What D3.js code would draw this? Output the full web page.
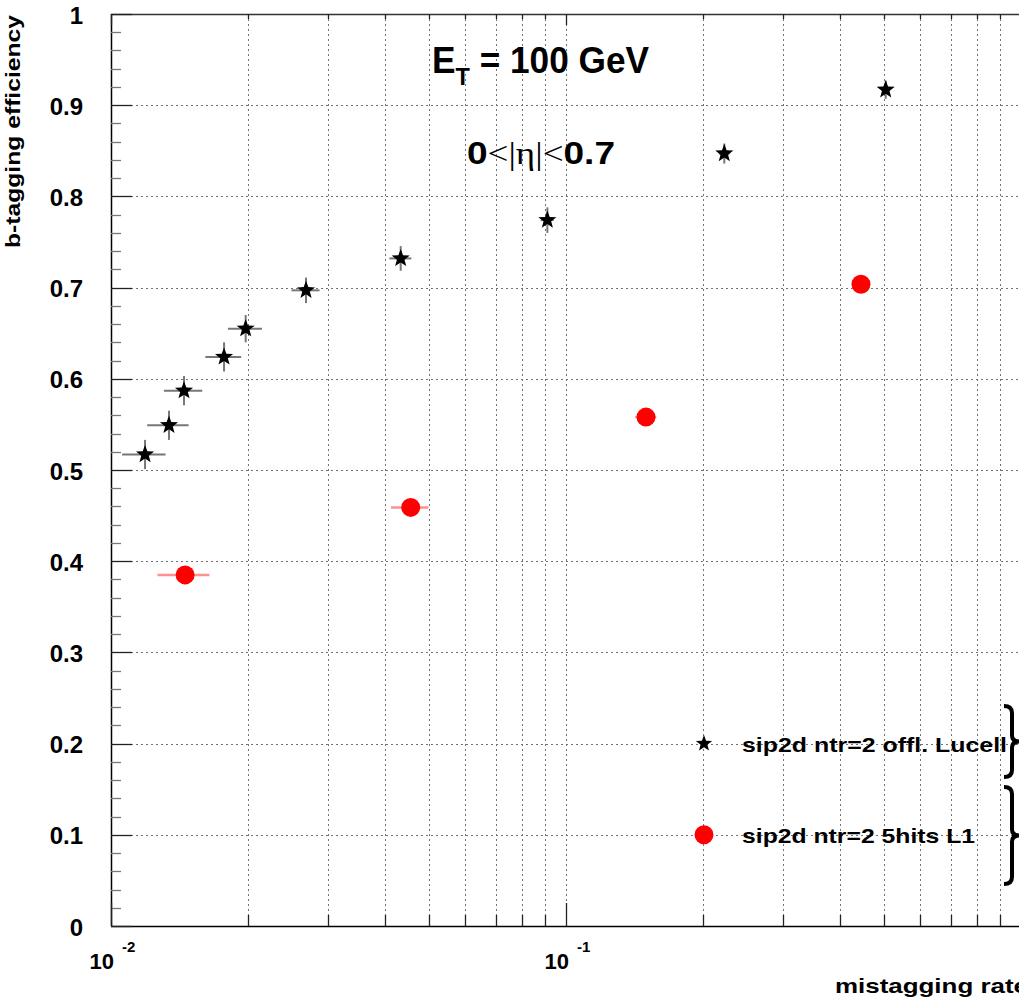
<!DOCTYPE html>
<html>
<head>
<meta charset="utf-8">
<script src="https://cdn.jsdelivr.net/npm/d3@7"></script>
<style>
  html, body { margin: 0; padding: 0; background: #fff; }
  svg { display: block; }
  text { font-family: "Liberation Sans", Arial, Helvetica, sans-serif; font-weight: bold; fill: #000; }
</style>
</head>
<body>
<svg id="chart" width="1019" height="1001"></svg>
<script>
// b-tagging efficiency vs. mistagging rate, E_T = 100 GeV, 0<|eta|<0.7

// offline Lucell tagger (stars)
const starRate   = [0.01188, 0.01341, 0.01447, 0.01772, 0.01977, 0.02683, 0.04332, 0.0910, 0.2228, 0.5043];
const starEff    = [0.517, 0.549, 0.587, 0.624, 0.655, 0.697, 0.732, 0.774, 0.847, 0.917];
const starRateErr = [0.0013, 0.0014, 0.0014, 0.0016, 0.0017, 0.0019, 0.0024, 0.003, 0.006, 0.01];
const starEffErr  = [0.016, 0.016, 0.016, 0.016, 0.015, 0.014, 0.0135, 0.014, 0.011, 0.010];

// L1 5-hit tagger (red circles)
const circRate    = [0.01455, 0.04557, 0.1499, 0.4449];
const circEff     = [0.385, 0.459, 0.558, 0.7036];
const circRateErr = [0.0019, 0.0043, 0.008, 0.015];
const circEffErr  = [0.008, 0.008, 0.008, 0.008];

// axis ticks
const yMajor = [0, 0.1, 0.2, 0.3, 0.4, 0.5, 0.6, 0.7, 0.8, 0.9, 1];
const yLabels = ["0", "0.1", "0.2", "0.3", "0.4", "0.5", "0.6", "0.7", "0.8", "0.9", "1"];
const xDecades = [0.01, 0.1, 1];
const xDecadeExp = ["-2", "-1", "0"];

const legendNames = ["sip2d ntr=2 offl. Lucell", "sip2d ntr=2 5hits L1"];

const svg = d3.select("#chart");

const x = d3.scaleLog().domain([0.01, 1]).range([111, 1021]);
const y = d3.scaleLinear().domain([0, 1]).range([926, 14]);

// minor log positions 2..9 x 10^n
const xMinor = [];
[0.01, 0.1].forEach(d => { for (let k = 2; k <= 9; k++) xMinor.push(d * k); });
const yMinor = d3.range(0, 50).map(i => i * 0.02).filter(v => Math.abs(v * 10 - Math.round(v * 10)) > 1e-6);

// grid
const grid = svg.append("g")
  .attr("stroke", "#444").attr("stroke-width", 1).attr("stroke-dasharray", "2,3").attr("opacity", 0.75);
grid.selectAll("line.gx").data(xMinor.concat([0.1])).join("line")
  .attr("x1", d => Math.round(x(d)) + 0.5).attr("x2", d => Math.round(x(d)) + 0.5)
  .attr("y1", y(0)).attr("y2", y(1));
grid.selectAll("line.gy").data(yMajor.slice(1, 10)).join("line")
  .attr("x1", x(0.01)).attr("x2", x(1))
  .attr("y1", d => Math.round(y(d)) + 0.5).attr("y2", d => Math.round(y(d)) + 0.5);

// frame
const frame = svg.append("g").attr("stroke", "#000").attr("fill", "none");
frame.append("line").attr("x1", 111.5).attr("x2", 111.5).attr("y1", y(1)).attr("y2", y(0)).attr("stroke-width", 1.5);
frame.append("line").attr("x1", 111).attr("x2", 1021).attr("y1", 926.5).attr("y2", 926.5).attr("stroke-width", 1.5);
frame.append("line").attr("x1", 111).attr("x2", 1021).attr("y1", 14.5).attr("y2", 14.5).attr("stroke-width", 1.5).attr("stroke", "#333");

// y ticks (left)
const yt = svg.append("g").attr("stroke", "#222").attr("stroke-width", 1.3);
yt.selectAll("line.maj").data(yMajor).join("line")
  .attr("x1", 111).attr("x2", 132)
  .attr("y1", d => Math.round(y(d)) + 0.5).attr("y2", d => Math.round(y(d)) + 0.5);
yt.selectAll("line.min").data(yMinor).join("line")
  .attr("x1", 111).attr("x2", 121).attr("stroke", "#777")
  .attr("y1", d => Math.round(y(d)) + 0.5).attr("y2", d => Math.round(y(d)) + 0.5);

// x ticks (bottom, top)
const xt = svg.append("g").attr("stroke", "#222").attr("stroke-width", 1.3);
xt.selectAll("line.bmin").data(xMinor).join("line")
  .attr("x1", d => Math.round(x(d)) + 0.5).attr("x2", d => Math.round(x(d)) + 0.5)
  .attr("y1", 926).attr("y2", 915);
xt.selectAll("line.bmaj").data(xDecades).join("line")
  .attr("x1", d => Math.round(x(d)) + 0.5).attr("x2", d => Math.round(x(d)) + 0.5)
  .attr("y1", 926).attr("y2", 903);
xt.selectAll("line.tmin").data(xMinor).join("line")
  .attr("x1", d => Math.round(x(d)) + 0.5).attr("x2", d => Math.round(x(d)) + 0.5)
  .attr("y1", 14).attr("y2", 19);
xt.selectAll("line.tmaj").data(xDecades).join("line")
  .attr("x1", d => Math.round(x(d)) + 0.5).attr("x2", d => Math.round(x(d)) + 0.5)
  .attr("y1", 14).attr("y2", 25);

// y tick labels
svg.append("g").selectAll("text").data(yMajor).join("text")
  .attr("x", 83).attr("y", d => y(d) + 9.5)
  .attr("text-anchor", "end").attr("font-size", 24)
  .text((d, i) => yLabels[i]);

// x tick labels 10^n
const xl = svg.append("g").selectAll("g").data(xDecades.slice(0, 2)).join("g");
xl.append("text").attr("x", d => x(d) + 3).attr("y", 969)
  .attr("text-anchor", "end").attr("font-size", 22).text("10");
xl.append("text").attr("x", d => x(d) + 11).attr("y", 952)
  .attr("font-size", 15).text((d, i) => xDecadeExp[i]);

// axis titles
svg.append("text")
  .attr("transform", "translate(20,15) rotate(-90)")
  .attr("text-anchor", "end").attr("font-size", 21)
  .attr("textLength", 233).attr("lengthAdjust", "spacingAndGlyphs")
  .text("b-tagging efficiency");
svg.append("text")
  .attr("x", 835).attr("y", 993).attr("font-size", 21)
  .attr("textLength", 193).attr("lengthAdjust", "spacingAndGlyphs")
  .text("mistagging rate");

// star marker path
function starPath(R) {
  const r = R * 0.42;
  const pts = d3.range(10).map(i => {
    const a = -Math.PI / 2 + i * Math.PI / 5;
    const rr = i % 2 === 0 ? R : r;
    return [rr * Math.cos(a), rr * Math.sin(a)];
  });
  return "M" + pts.map(p => p[0].toFixed(2) + "," + p[1].toFixed(2)).join("L") + "Z";
}

const starData = starRate.map((v, i) => ({ x: v, y: starEff[i], ex: starRateErr[i], ey: starEffErr[i] }));
const circData = circRate.map((v, i) => ({ x: v, y: circEff[i], ex: circRateErr[i], ey: circEffErr[i] }));

// error bars
const eb = svg.append("g");
eb.selectAll("line.sx").data(starData).join("line")
  .attr("x1", d => x(d.x - d.ex)).attr("x2", d => x(d.x + d.ex))
  .attr("y1", d => y(d.y)).attr("y2", d => y(d.y))
  .attr("stroke", "#777").attr("stroke-width", 2);
eb.selectAll("line.sy").data(starData).join("line")
  .attr("x1", d => x(d.x)).attr("x2", d => x(d.x))
  .attr("y1", d => y(d.y - d.ey)).attr("y2", d => y(d.y + d.ey))
  .attr("stroke", "#777").attr("stroke-width", 2);
eb.selectAll("line.cx").data(circData).join("line")
  .attr("x1", d => x(d.x - d.ex)).attr("x2", d => x(d.x + d.ex))
  .attr("y1", d => y(d.y)).attr("y2", d => y(d.y))
  .attr("stroke", "#ff9090").attr("stroke-width", 2.5);
eb.selectAll("line.cy").data(circData).join("line")
  .attr("x1", d => x(d.x)).attr("x2", d => x(d.x))
  .attr("y1", d => y(d.y - d.ey)).attr("y2", d => y(d.y + d.ey))
  .attr("stroke", "#ff9090").attr("stroke-width", 2.5);

// markers
svg.append("g").selectAll("path").data(starData).join("path")
  .attr("d", starPath(9.5))
  .attr("transform", d => `translate(${x(d.x)},${y(d.y)})`)
  .attr("fill", "#000");
svg.append("g").selectAll("circle").data(circData).join("circle")
  .attr("cx", d => x(d.x)).attr("cy", d => y(d.y)).attr("r", 9.5)
  .attr("fill", "#ff0000");

// legend
const leg = svg.append("g");
leg.append("path").attr("d", starPath(8.5)).attr("transform", `translate(704,${y(0.2)})`).attr("fill", "#000");
leg.append("circle").attr("cx", 704).attr("cy", y(0.1)).attr("r", 9.5).attr("fill", "#ff0000");
leg.append("text").attr("x", 742).attr("y", y(0.2) + 8).attr("font-size", 21)
  .attr("textLength", 265).attr("lengthAdjust", "spacingAndGlyphs").text(legendNames[0]);
leg.append("text").attr("x", 742).attr("y", y(0.1) + 8).attr("font-size", 21)
  .attr("textLength", 233).attr("lengthAdjust", "spacingAndGlyphs").text(legendNames[1]);

// braces grouping the legend entries
function brace(top, bottom, x0) {
  const mid = (top + bottom) / 2 + 0;
  const xb = x0 + 8, xt = x0 + 16;
  return `M${x0},${top} Q${xb},${top} ${xb},${top + 7} L${xb},${mid - 6} Q${xb},${mid} ${xt},${mid}` +
         ` Q${xb},${mid} ${xb},${mid + 6} L${xb},${bottom - 7} Q${xb},${bottom} ${x0},${bottom}`;
}
svg.append("path").attr("d", brace(706, 777, 1004)).attr("fill", "none").attr("stroke", "#000").attr("stroke-width", 4);
svg.append("path").attr("d", brace(787, 884, 1004)).attr("fill", "none").attr("stroke", "#000").attr("stroke-width", 4);

// annotations
const t1 = svg.append("text").attr("x", 432).attr("y", 73).attr("font-size", 36)
  .attr("textLength", 217).attr("lengthAdjust", "spacingAndGlyphs");
t1.append("tspan").text("E");
t1.append("tspan").attr("font-size", 24).attr("dy", 12).text("T");
t1.append("tspan").attr("dy", -12).text(" = 100 GeV");

const t2 = svg.append("text").attr("x", 467).attr("y", 164).attr("font-size", 32)
  .attr("textLength", 148).attr("lengthAdjust", "spacingAndGlyphs");
t2.append("tspan").text("0");
t2.append("tspan").attr("font-family", "'Liberation Serif', 'DejaVu Serif', serif").attr("font-weight", "normal").text("<|\u03B7|<");
t2.append("tspan").text("0.7");
</script>
</body>
</html>
